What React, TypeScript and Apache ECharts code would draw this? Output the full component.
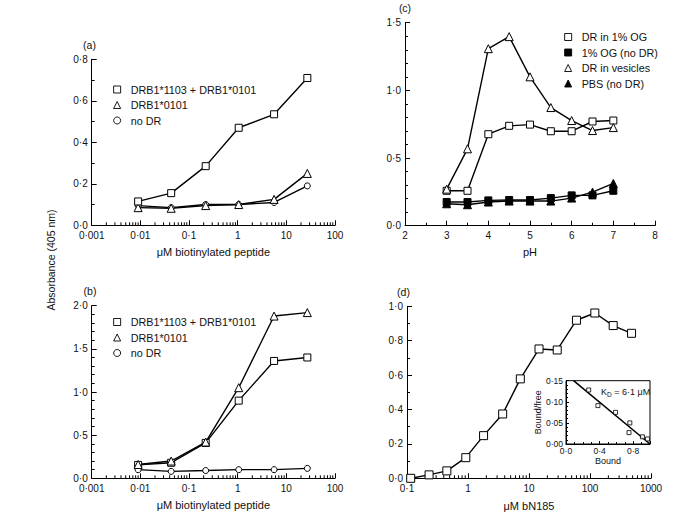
import React, { useEffect, useRef } from 'react';
import * as echarts from 'echarts';

// ---------- data ----------
const NAME_DUAL = 'DRB1*1103 + DRB1*0101';
const NAME_0101 = 'DRB1*0101';
const NAME_NODR = 'no DR';

const peptideConc = [0.009, 0.043, 0.22, 1.05, 5.6, 27];
const aDual = [0.115, 0.155, 0.285, 0.47, 0.535, 0.71];
const a0101 = [0.085, 0.082, 0.095, 0.1, 0.125, 0.25];
const aNoDR = [0.095, 0.085, 0.1, 0.1, 0.11, 0.19];

const bDual = [0.155, 0.18, 0.41, 0.9, 1.36, 1.4];
const b0101 = [0.16, 0.2, 0.42, 1.05, 1.88, 1.92];
const bNoDR = [0.1, 0.08, 0.09, 0.1, 0.1, 0.115];

const pHValues = [3, 3.5, 4, 4.5, 5, 5.5, 6, 6.5, 7];
const cDRinOG = [0.258, 0.258, 0.676, 0.738, 0.747, 0.698, 0.698, 0.77, 0.777];
const cOGnoDR = [0.175, 0.175, 0.187, 0.19, 0.19, 0.204, 0.224, 0.224, 0.258];
const cVesicles = [0.27, 0.568, 1.308, 1.397, 1.1, 0.873, 0.777, 0.703, 0.725];
const cPBS = [0.162, 0.155, 0.175, 0.182, 0.182, 0.182, 0.204, 0.248, 0.312];

const bN185Conc = [0.115, 0.23, 0.45, 0.92, 1.8, 3.7, 7.2, 14.6, 29, 60, 120, 240, 480];
const dAbs = [0.0, 0.02, 0.043, 0.12, 0.248, 0.374, 0.578, 0.752, 0.746, 0.919, 0.961, 0.888, 0.843];

const boundVals = [0.27, 0.38, 0.59, 0.76, 0.75, 0.91, 0.97];
const boundFreeVals = [0.128, 0.091, 0.075, 0.05, 0.027, 0.017, 0.012];
const fitBound = [0.09, 1.0];
const fitBoundFree = [0.15, 0.0];

const panelLabels = ['(a)', '(b)', '(c)', '(d)'];

// ---------- helpers ----------
const FONT = '"Liberation Sans", Arial, Helvetica, sans-serif';
const INK = '#111';

function logMinors(loExp: number, hiExp: number) {
  const out: number[] = [];
  for (let e = loExp; e < hiExp; e++) {
    for (let m = 2; m <= 9; m++) out.push(+(m * Math.pow(10, e)).toPrecision(6));
  }
  return out;
}
const dot = (s: string) => s.replace('.', '·');
const fmtLog = (v: number) => dot(String(+(+v).toPrecision(8)));
const fmt1 = (v: number) => dot((+v).toFixed(1));
const fmt2 = (v: number) => dot((+v).toFixed(2));
const fmt0 = (v: number) => String(Math.round(v));

const pairs = (xs: number[], ys: number[]) => xs.map((x, i) => [x, ys[i]]);

const axisLine = { show: true, onZero: false, lineStyle: { color: '#000', width: 1 } };
const labelBase = { color: INK, fontSize: 10, fontFamily: FONT };
const nameStyle = { color: INK, fontSize: 11, fontFamily: FONT };

function logX(gridIndex: number, min: number, max: number, name: string, nameGap: number) {
  return {
    type: 'log', logBase: 10, gridIndex, min, max, position: 'bottom',
    name, nameLocation: 'middle', nameGap, nameTextStyle: nameStyle,
    axisLine,
    axisTick: { show: true, inside: true, length: 5, lineStyle: { color: '#000', width: 1 } },
    axisLabel: { ...labelBase, margin: 5, formatter: fmtLog },
    splitLine: { show: false },
  };
}
function valAxis(gridIndex: number, min: number, max: number, interval: number, split: number, fmt: (v: number) => string, extra: any = {}) {
  return {
    type: 'value', gridIndex, min, max, interval,
    axisLine,
    axisTick: { show: true, inside: true, length: 5, lineStyle: { color: '#000', width: 1 } },
    minorTick: { show: true, splitNumber: split, length: 3, lineStyle: { color: '#000', width: 1 } },
    axisLabel: { ...labelBase, margin: 4, formatter: fmt },
    splitLine: { show: false },
    minorSplitLine: { show: false },
    ...extra,
  };
}

const open = { color: '#fff', borderColor: '#000', borderWidth: 1 };
const filled = { color: '#000', borderColor: '#000', borderWidth: 1 };
const lineSt = { color: '#000', width: 1.4 };

function lineSeries(name: string, xi: number, yi: number, data: number[][], symbol: string, size: number, item: any) {
  return {
    type: 'line', name, xAxisIndex: xi, yAxisIndex: yi, data,
    symbol, symbolSize: size, showSymbol: true,
    itemStyle: item, lineStyle: lineSt, emphasis: { disabled: true },
  };
}

// minor ticks of log axes drawn through the axis scale
function minorTickSeries(xi: number, yi: number, vals: number[]) {
  return {
    type: 'custom', name: 'minorTicks' + xi, xAxisIndex: xi, yAxisIndex: yi,
    data: vals.map((v) => [v, 0]), silent: true, clip: false, z: 3,
    renderItem: (_params: any, api: any) => {
      const p = api.coord([api.value(0), api.value(1)]);
      return {
        type: 'line',
        shape: { x1: p[0], y1: p[1], x2: p[0], y2: p[1] - 3 },
        style: { stroke: '#000', lineWidth: 1 },
      };
    },
  };
}

function legendFor(names: string[], icons: string[], left: number, top: number) {
  return {
    orient: 'vertical', left, top, padding: 0,
    itemWidth: 7, itemHeight: 7, itemGap: 4.5,
    selectedMode: false,
    itemStyle: { borderWidth: 0.9, borderColor: '#000' },
    lineStyle: { width: 0.9 },
    textStyle: { fontSize: 10.8, color: INK, fontFamily: FONT, padding: [0, 0, 0, 5] },
    data: names.map((n, i) => ({ name: n, icon: icons[i] })),
  };
}

function buildOption() {
  return {
    animation: false,
    backgroundColor: '#fff',
    textStyle: { fontFamily: FONT },
    grid: [
      { left: 91.7, top: 59.3, width: 243.3, height: 166 },
      { left: 91.7, top: 305.7, width: 243.3, height: 172.6 },
      { left: 405, top: 22.7, width: 250, height: 203 },
      { left: 407, top: 306.3, width: 244, height: 172 },
      { left: 566, top: 380.7, width: 84, height: 63.3, show: true, borderColor: '#000', borderWidth: 1, backgroundColor: '#fff', z: 5 },
    ],
    xAxis: [
      logX(0, 0.001, 100, 'μM biotinylated peptide', 21),
      logX(1, 0.001, 100, 'μM biotinylated peptide', 21),
      valAxis(2, 2, 8, 1, 2, fmt0, { name: 'pH', nameLocation: 'middle', nameGap: 21, nameTextStyle: nameStyle, axisLabel: { ...labelBase, margin: 5, formatter: fmt0 } }),
      logX(3, 0.1, 1000, 'μM bN185', 22),
      valAxis(4, 0, 1.0, 0.4, 4, fmt1, {
        name: 'Bound', nameLocation: 'middle', nameGap: 12,
        nameTextStyle: { ...nameStyle, fontSize: 9 },
        axisLabel: { ...labelBase, fontSize: 8.5, margin: 2, formatter: fmt1, showMaxLabel: false },
        axisTick: { show: true, inside: true, length: 3, lineStyle: { color: '#000', width: 1 } },
        minorTick: { show: true, splitNumber: 4, length: 2, lineStyle: { color: '#000', width: 1 } },
        z: 6,
      }),
    ],
    yAxis: [
      valAxis(0, 0, 0.8, 0.2, 2, fmt1),
      valAxis(1, 0, 2.0, 0.5, 5, fmt1),
      valAxis(2, 0, 1.5, 0.5, 5, fmt1),
      valAxis(3, 0, 1.0, 0.2, 2, fmt1),
      valAxis(4, 0, 0.15, 0.05, 5, fmt2, {
        name: 'Bound/free', nameLocation: 'middle', nameGap: 22, nameRotate: 90,
        nameTextStyle: { ...nameStyle, fontSize: 9 },
        axisLabel: { ...labelBase, fontSize: 8.5, margin: 3, formatter: fmt2 },
        axisTick: { show: true, inside: true, length: 3, lineStyle: { color: '#000', width: 1 } },
        minorTick: { show: true, splitNumber: 5, length: 2, lineStyle: { color: '#000', width: 1 } },
        z: 6,
      }),
    ],
    legend: [
      legendFor([NAME_DUAL, NAME_0101, NAME_NODR], ['rect', 'triangle', 'circle'], 113.2, 84),
      legendFor([NAME_DUAL, NAME_0101, NAME_NODR], ['rect', 'triangle', 'circle'], 113.2, 316.5),
      legendFor(['DR in 1% OG', '1% OG (no DR)', 'DR in vesicles', 'PBS (no DR)'], ['rect', 'rect', 'triangle', 'triangle'], 564.2, 31.5),
    ],
    series: [
      minorTickSeries(0, 0, logMinors(-3, 2)),
      minorTickSeries(1, 1, logMinors(-3, 2)),
      minorTickSeries(3, 3, logMinors(-1, 3)),
      // (a)
      lineSeries(NAME_NODR, 0, 0, pairs(peptideConc, aNoDR), 'circle', 6, open),
      lineSeries(NAME_0101, 0, 0, pairs(peptideConc, a0101), 'triangle', 8, open),
      lineSeries(NAME_DUAL, 0, 0, pairs(peptideConc, aDual), 'rect', 7, open),
      // (b)
      lineSeries(NAME_NODR, 1, 1, pairs(peptideConc, bNoDR), 'circle', 6, open),
      lineSeries(NAME_DUAL, 1, 1, pairs(peptideConc, bDual), 'rect', 7, open),
      lineSeries(NAME_0101, 1, 1, pairs(peptideConc, b0101), 'triangle', 8, open),
      // (c)
      lineSeries('PBS (no DR)', 2, 2, pairs(pHValues, cPBS), 'triangle', 8, filled),
      lineSeries('1% OG (no DR)', 2, 2, pairs(pHValues, cOGnoDR), 'rect', 7, filled),
      lineSeries('DR in 1% OG', 2, 2, pairs(pHValues, cDRinOG), 'rect', 7, open),
      lineSeries('DR in vesicles', 2, 2, pairs(pHValues, cVesicles), 'triangle', 8, open),
      // (d)
      lineSeries('bN185', 3, 3, pairs(bN185Conc, dAbs), 'rect', 8, open),
      // inset
      {
        type: 'line', name: 'fit', xAxisIndex: 4, yAxisIndex: 4, data: pairs(fitBound, fitBoundFree),
        symbol: 'none', lineStyle: { color: '#000', width: 1.5 }, z: 7, emphasis: { disabled: true },
      },
      {
        type: 'scatter', name: 'scatchard', xAxisIndex: 4, yAxisIndex: 4, data: pairs(boundVals, boundFreeVals),
        symbol: 'rect', symbolSize: 4, itemStyle: open, z: 8, emphasis: { disabled: true },
      },
    ],
    graphic: [
      { type: 'text', x: 89.5, y: 45, style: { text: panelLabels[0], font: `10.5px ${FONT}`, fill: INK, align: 'center', verticalAlign: 'middle' } },
      { type: 'text', x: 90, y: 290.7, style: { text: panelLabels[1], font: `10.5px ${FONT}`, fill: INK, align: 'center', verticalAlign: 'middle' } },
      { type: 'text', x: 405, y: 8, style: { text: panelLabels[2], font: `10.5px ${FONT}`, fill: INK, align: 'center', verticalAlign: 'middle' } },
      { type: 'text', x: 403.5, y: 291.7, style: { text: panelLabels[3], font: `10.5px ${FONT}`, fill: INK, align: 'center', verticalAlign: 'middle' } },
      {
        type: 'text', x: 51, y: 260, rotation: Math.PI / 2,
        style: { text: 'Absorbance (405 nm)', font: `10.5px ${FONT}`, fill: INK, align: 'center', verticalAlign: 'middle' },
      },
      {
        type: 'text', x: 601, y: 392, z: 20,
        style: {
          text: '{k|K}{s|D}{k| = 6·1 μM}',
          fill: INK, verticalAlign: 'middle', align: 'left',
          rich: {
            k: { fontSize: 9, fontFamily: FONT, fill: INK },
            s: { fontSize: 6.5, fontFamily: FONT, fill: INK, padding: [5, 0, 0, 0] },
          },
        },
      },
    ],
  };
}

export default function App() {
  const ref = useRef<HTMLDivElement>(null);
  useEffect(() => {
    if (!ref.current) return;
    const chart = echarts.init(ref.current, undefined, { renderer: 'svg' });
    chart.setOption(buildOption() as any);
    return () => chart.dispose();
  }, []);
  return (
    <div
      ref={ref}
      style={{ position: 'absolute', left: 0, top: 0, width: 694, height: 523, background: '#fff' }}
    />
  );
}
